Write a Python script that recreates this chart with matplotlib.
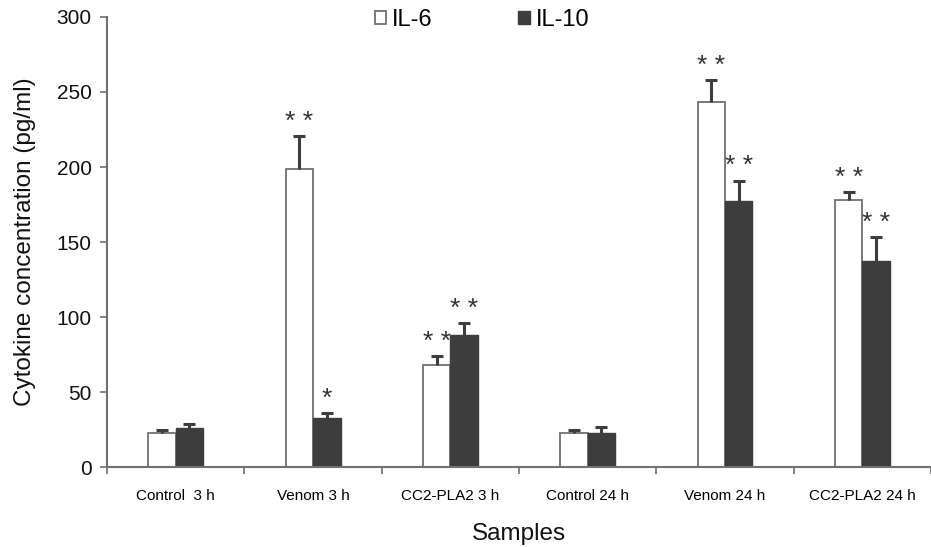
import numpy as np
import matplotlib.pyplot as plt
from matplotlib.ticker import MultipleLocator

plt.rcParams["font.family"] = ["Liberation Sans", "DejaVu Sans"]

samples = ["Control  3 h", "Venom 3 h", "CC2-PLA2 3 h",
           "Control 24 h", "Venom 24 h", "CC2-PLA2 24 h"]
il6 = [22.5, 198.5, 68, 23, 243.5, 178]
il6_err = [2.5, 22, 6, 2, 14.5, 5.5]
il10 = [26, 32.5, 88, 23, 177.5, 137.5]
il10_err = [3, 3.5, 8, 4, 13.5, 16]
il6_stars = ["", "* *", "* *", "", "* *", "* *"]
il10_stars = ["", "*", "* *", "", "* *", "* *"]

grey = "#707070"
dark = "#3d3d3d"

fig = plt.figure(figsize=(9.31, 5.47), dpi=100)
ax = fig.add_axes([0.115, 0.146, 0.885, 0.823])

x = np.arange(len(samples))
w = 0.2
ax.bar(x - w / 2, il6, w, color="white", edgecolor=grey, linewidth=1.3, label="IL-6")
ax.bar(x + w / 2, il10, w, color=dark, edgecolor=dark, linewidth=1.0, label="IL-10")

# one-sided (upper) error bars
for xs, ys, es in [(x - w / 2, il6, il6_err), (x + w / 2, il10, il10_err)]:
    eb = ax.errorbar(xs, ys, yerr=[np.zeros(len(es)), es], fmt="none",
                     ecolor=dark, elinewidth=2.2, capsize=4.5, capthick=2.2)
    eb[1][0].set_visible(False)

for i in range(len(samples)):
    if il6_stars[i]:
        ax.text(x[i] - w / 2, il6[i] + il6_err[i] + 1.5, il6_stars[i],
                ha="center", va="bottom", fontsize=19, color="#333333")
    if il10_stars[i]:
        ax.text(x[i] + w / 2, il10[i] + il10_err[i] + 1.5, il10_stars[i],
                ha="center", va="bottom", fontsize=19, color="#333333")

ax.set_xlim(-0.5, len(samples) - 0.5)
ax.set_ylim(0, 300)
ax.yaxis.set_major_locator(MultipleLocator(50))
ax.set_xticks(x)
ax.set_xticklabels(samples, fontsize=11)
ax.set_xticks(np.arange(len(samples) + 1) - 0.5, minor=True)
ax.tick_params(axis="x", which="major", length=0, pad=16)
ax.tick_params(axis="x", which="minor", length=5, color=grey, width=1.2)
ax.tick_params(axis="y", labelsize=15, length=5, color=grey, width=1.2, pad=6,
               labelcolor="#111111")

for s in ["top", "right"]:
    ax.spines[s].set_visible(False)
for s in ["left", "bottom"]:
    ax.spines[s].set_color(grey)
    ax.spines[s].set_linewidth(1.5)

ax.set_ylabel("Cytokine concentration (pg/ml)", fontsize=17.5, color="#111111")
ax.yaxis.set_label_coords(-0.086, 0.5)
ax.set_xlabel("Samples", fontsize=17.5, color="#111111")
ax.xaxis.set_label_coords(0.5, -0.123)

ax.legend(loc="center", bbox_to_anchor=(0.455, 0.994), ncol=2, frameon=False,
          fontsize=17, handlelength=0.5, handleheight=0.5, handletextpad=0.25,
          columnspacing=3.6)

fig.savefig("out.png", dpi=100)
